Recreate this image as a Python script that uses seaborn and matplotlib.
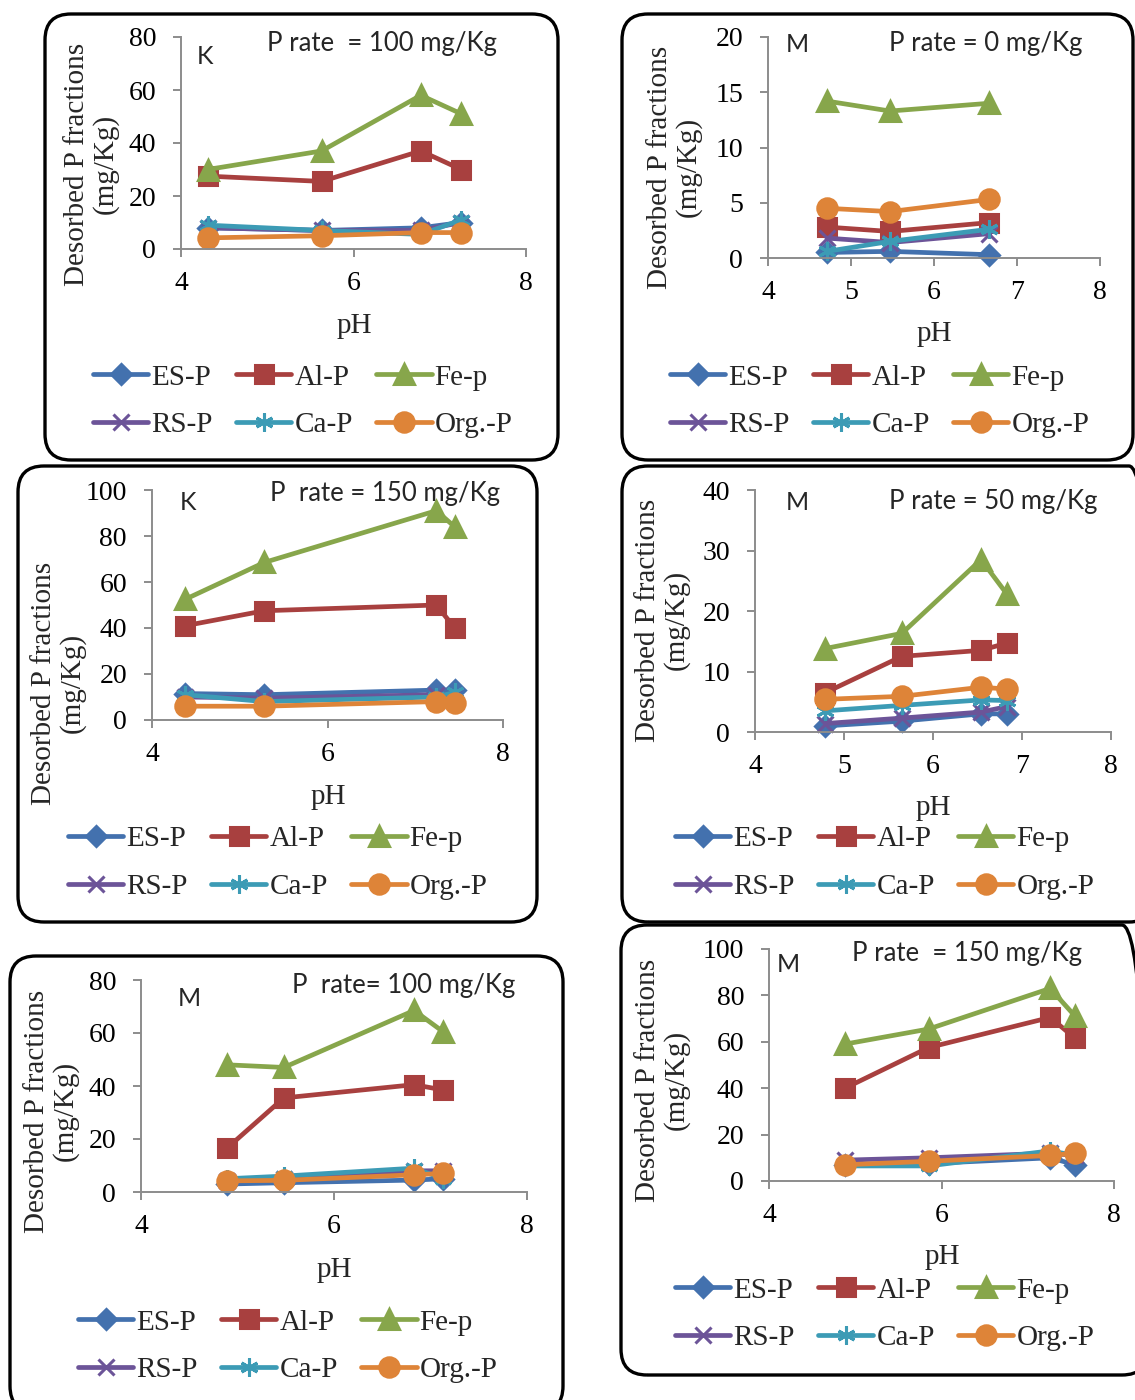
import matplotlib
matplotlib.use('Agg')
import matplotlib.pyplot as plt
from matplotlib.patches import FancyBboxPatch
from matplotlib.transforms import IdentityTransform
import pandas as pd
import seaborn as sns

# ---- data ----
FRACTIONS = ['ES-P', 'Al-P', 'Fe-p', 'RS-P', 'Ca-P', 'Org.-P']

# K soil, P rate 100
k100_ph = [4.31, 5.63, 6.78, 7.25]
k100 = {'ES-P': [8.0, 7.0, 8.0, 10.0], 'Al-P': [27.5, 25.5, 37.0, 30.0],
        'Fe-p': [30.0, 37.0, 58.0, 51.0], 'RS-P': [8.0, 7.0, 7.0, 10.0],
        'Ca-P': [9.0, 7.0, 5.5, 11.0], 'Org.-P': [4.2, 5.0, 6.2, 6.2]}

# M soil, P rate 0
m0_ph = [4.71, 5.47, 6.66]
m0 = {'ES-P': [0.5, 0.6, 0.3], 'Al-P': [2.8, 2.4, 3.2],
      'Fe-p': [14.2, 13.3, 14.0], 'RS-P': [1.8, 1.4, 2.2],
      'Ca-P': [0.6, 1.5, 2.6], 'Org.-P': [4.5, 4.2, 5.3]}

# K soil, P rate 150
k150_ph = [4.38, 5.28, 7.24, 7.45]
k150 = {'ES-P': [11.5, 11.0, 13.0, 13.0], 'Al-P': [41.0, 47.5, 50.0, 40.0],
        'Fe-p': [52.5, 68.5, 91.0, 84.0], 'RS-P': [10.0, 9.5, 11.0, 11.0],
        'Ca-P': [11.0, 8.0, 10.0, 12.0], 'Org.-P': [6.0, 6.0, 8.0, 7.5]}

# M soil, P rate 50
m50_ph = [4.79, 5.65, 6.54, 6.83]
m50 = {'ES-P': [1.0, 1.8, 3.0, 3.0], 'Al-P': [6.5, 12.5, 13.5, 14.7],
       'Fe-p': [13.8, 16.3, 28.5, 22.8], 'RS-P': [1.4, 2.3, 3.3, 4.2],
       'Ca-P': [3.5, 4.4, 5.3, 5.2], 'Org.-P': [5.4, 5.9, 7.4, 7.1]}

# M soil, P rate 100
m100_ph = [4.89, 5.48, 6.83, 7.13]
m100 = {'ES-P': [3.0, 3.5, 4.5, 5.0], 'Al-P': [16.5, 35.5, 40.5, 38.5],
        'Fe-p': [48.0, 47.0, 68.5, 60.5], 'RS-P': [4.0, 5.0, 8.0, 8.0],
        'Ca-P': [5.0, 6.0, 9.0, 5.0], 'Org.-P': [4.2, 4.4, 6.5, 7.0]}

# M soil, P rate 150
m150_ph = [4.88, 5.85, 7.26, 7.55]
m150 = {'ES-P': [7.0, 7.5, 10.0, 7.0], 'Al-P': [40.0, 57.5, 70.5, 61.5],
        'Fe-p': [59.0, 65.5, 83.0, 71.0], 'RS-P': [9.0, 10.0, 12.0, 11.0],
        'Ca-P': [6.5, 6.5, 13.0, 11.0], 'Org.-P': [7.0, 8.5, 11.0, 12.0]}

# ---- styles ----
COLORS = {'ES-P': '#4371ae', 'Al-P': '#a8403f', 'Fe-p': '#87a64b',
          'RS-P': '#6c5498', 'Ca-P': '#3c9bb5', 'Org.-P': '#de8438'}
MARKERS = {'ES-P': 'D', 'Al-P': 's', 'Fe-p': '^',
           'RS-P': 'x', 'Ca-P': (6, 2, 0), 'Org.-P': 'o'}
MSIZE = {'ES-P': 10, 'Al-P': 13, 'Fe-p': 14, 'RS-P': 12, 'Ca-P': 13, 'Org.-P': 14}

W, H = 1135, 1400
SERIF = 'Liberation Serif'
SANS = 'Lato'

# layout in reference pixels
PANELS = [
    dict(ph=k100_ph, vals=k100, soil='K', title='P rate  = 100 mg/Kg',
         ax=(181, 37, 526, 249), ylim=80, ystep=20, xstep=2,
         box=(45, 14, 558, 460), ylab=(91, 164), xlab=(354, 326),
         soil_xy=(197, 57), title_xy=(267, 43), leg=(93, 401)),
    dict(ph=m0_ph, vals=m0, soil='M', title='P rate = 0 mg/Kg',
         ax=(768, 37, 1100, 258), ylim=20, ystep=5, xstep=1,
         box=(622, 14, 1133, 460), ylab=(674, 167), xlab=(934, 334),
         soil_xy=(786, 45), title_xy=(889, 43), leg=(670, 401)),
    dict(ph=k150_ph, vals=k150, soil='K', title='P  rate = 150 mg/Kg',
         ax=(152, 490, 503, 720), ylim=100, ystep=20, xstep=2,
         box=(18, 466, 537, 922), ylab=(58, 683), xlab=(328, 797),
         soil_xy=(180, 503), title_xy=(270, 494), leg=(68, 863)),
    dict(ph=m50_ph, vals=m50, soil='M', title='P rate = 50 mg/Kg',
         ax=(755, 490, 1111, 732), ylim=40, ystep=10, xstep=1,
         box=(622, 466, 1155, 922), ylab=(662, 620), xlab=(933, 808),
         soil_xy=(786, 503), title_xy=(889, 502), leg=(675, 863)),
    dict(ph=m100_ph, vals=m100, soil='M', title='P  rate= 100 mg/Kg',
         ax=(141, 980, 527, 1192), ylim=80, ystep=20, xstep=2,
         box=(10, 956, 563, 1412), ylab=(51, 1111), xlab=(334, 1270),
         soil_xy=(178, 999), title_xy=(292, 986), leg=(78, 1346)),
    dict(ph=m150_ph, vals=m150, soil='M', title='P rate  = 150 mg/Kg',
         ax=(769, 949, 1114, 1181), ylim=100, ystep=20, xstep=2,
         box=(621, 925, 1148, 1375), ylab=(662, 1080), xlab=(942, 1257),
         soil_xy=(777, 965), title_xy=(852, 954), leg=(675, 1314)),
]


def fx(px):
    return px / W


def fy(py):
    return 1 - py / H


def plot_panel(fig, p):
    l, t, r, b = p['ax']
    ax = fig.add_axes([fx(l), fy(b), (r - l) / W, (b - t) / H])

    rows = []
    for name in FRACTIONS:
        for x, y in zip(p['ph'], p['vals'][name]):
            rows.append({'Fraction': name, 'pH': x, 'P': y})
    df = pd.DataFrame(rows)

    for name in FRACTIONS:
        sub = df.loc[df['Fraction'] == name]
        sns.lineplot(data=sub, x='pH', y='P', ax=ax, sort=False, errorbar=None,
                     color=COLORS[name], linewidth=3.4, label=name,
                     marker=MARKERS[name], markersize=MSIZE[name],
                     markeredgecolor=COLORS[name], markeredgewidth=2.2,
                     clip_on=False)
    if ax.get_legend() is not None:
        ax.get_legend().remove()

    ax.set_xlim(4, 8)
    ax.set_ylim(0, p['ylim'])
    ax.set_xticks(range(4, 9, p['xstep']))
    ax.set_yticks(range(0, p['ylim'] + 1, p['ystep']))
    ax.set_xlabel('')
    ax.set_ylabel('')
    sns.despine(ax=ax)
    for s in ['left', 'bottom']:
        ax.spines[s].set_color('#8c8c8c')
        ax.spines[s].set_linewidth(1.4)
    ax.tick_params(direction='out', length=6, width=1.4, color='#8c8c8c',
                   labelsize=20, labelcolor='black')
    ax.tick_params(axis='y', pad=12)
    ax.tick_params(axis='x', pad=10)
    for lab in ax.get_xticklabels() + ax.get_yticklabels():
        lab.set_family(SERIF)
    ax.patch.set_alpha(0)

    # axis titles and panel annotations
    fig.text(fx(p['ylab'][0]), fy(p['ylab'][1]), 'Desorbed P fractions\n(mg/Kg)',
             rotation=90, ha='center', va='center', multialignment='center',
             family=SERIF, fontsize=21, linespacing=1.1)
    fig.text(fx(p['xlab'][0]), fy(p['xlab'][1]), 'pH', ha='center', va='center',
             family=SERIF, fontsize=21)
    fig.text(fx(p['soil_xy'][0]), fy(p['soil_xy'][1]), p['soil'], ha='left',
             va='center', family=SANS, fontsize=18)
    fig.text(fx(p['title_xy'][0]), fy(p['title_xy'][1]), p['title'], ha='left',
             va='center', family=SANS, fontsize=18.5)

    # legend: 2 rows x 3 columns, filled column-wise
    handles, labels = ax.get_legend_handles_labels()
    order = [0, 3, 1, 4, 2, 5]
    fig.legend([handles[i] for i in order], [labels[i] for i in order],
               loc='center left', bbox_to_anchor=(fx(p['leg'][0]), fy(p['leg'][1])),
               ncol=3, frameon=False, borderpad=0, borderaxespad=0,
               handlelength=1.9, handletextpad=0.1, columnspacing=0.8,
               labelspacing=0.72, prop={'family': SERIF, 'size': 21})

    # rounded frame around the panel
    x0, y0, x1, y1 = p['box']
    box = FancyBboxPatch((x0, H - y1), x1 - x0, y1 - y0,
                         boxstyle='round,pad=0,rounding_size=26',
                         transform=IdentityTransform(), facecolor='none',
                         edgecolor='black', linewidth=2.4, clip_on=False)
    fig.add_artist(box)
    return ax


def main():
    sns.set_style('ticks')
    plt.rcParams['font.family'] = [SERIF, 'DejaVu Serif']
    fig = plt.figure(figsize=(W / 100, H / 100), dpi=100)
    fig.patch.set_facecolor('white')
    for p in PANELS:
        plot_panel(fig, p)
    fig.savefig('out.png', dpi=100)
    plt.close(fig)


if __name__ == '__main__':
    main()
